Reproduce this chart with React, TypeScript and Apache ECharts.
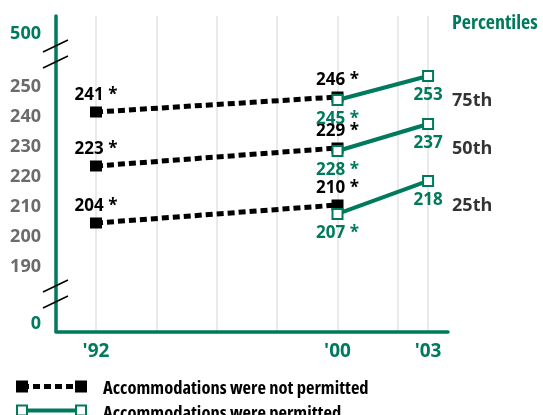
import React, { useEffect, useRef } from "react";
import * as echarts from "echarts";

// ---- data ----
const notPermYears = [1992, 2000];
const permYears = [2000, 2003];
const notPerm75 = [241, 246];
const notPerm50 = [223, 229];
const notPerm25 = [204, 210];
const perm75 = [245, 253];
const perm50 = [228, 237];
const perm25 = [207, 218];
const notPermSig = [true, true];
const permSig = [true, false];
const percentileNames = ["75th", "50th", "25th"];
const xLabelYears = [1992, 2000, 2003];
const xGridYears = [1992, 1994, 1996, 1998, 2000, 2002, 2003];
const yTickValues = [190, 200, 210, 220, 230, 240, 250];
// break labels: displayed text and position on the compressed scale
const breakLabelText = ["0", "500"];
const breakLabelPos = [171, 267.67];

const GREEN = "#007a5c";
const GREY = "#6b6b6b";
const FONT = '"Open Sans", sans-serif';
const STRETCH = "condensed";

function pairs(xs: number[], ys: number[]) {
  return xs.map((x, i) => [x, ys[i]]);
}

export default function App() {
  const ref = useRef<HTMLDivElement>(null);
  useEffect(() => {
    const chart = echarts.init(ref.current!, null, { renderer: "svg" });

    const notPermSets = [notPerm75, notPerm50, notPerm25];
    const permSets = [perm75, perm50, perm25];

    const series: any[] = [];
    notPermSets.forEach((vals, k) => {
      series.push({
        name: "Accommodations were not permitted",
        type: "line",
        data: pairs(notPermYears, vals),
        symbol: "rect",
        symbolSize: [12, 11],
        itemStyle: { color: "#000" },
        lineStyle: { color: "#000", width: 5, type: [7, 4] },
        z: 2 + k,
        label: {
          show: true,
          position: "top",
          distance: 4,
          color: "#000",
          fontFamily: FONT,
          fontStyle: STRETCH,
          fontSize: 17,
          fontWeight: "bold",
          formatter: (p: any) => p.value[1] + (notPermSig[p.dataIndex] ? " *" : ""),
        },
      });
    });
    permSets.forEach((vals, k) => {
      series.push({
        name: "Accommodations were permitted",
        type: "line",
        data: pairs(permYears, vals),
        symbol: "rect",
        symbolSize: 10,
        itemStyle: { color: "#fff", borderColor: GREEN, borderWidth: 2 },
        lineStyle: { color: GREEN, width: 4 },
        z: 10 + k,
        label: {
          show: true,
          position: "bottom",
          distance: 3,
          color: GREEN,
          fontFamily: FONT,
          fontStyle: STRETCH,
          fontSize: 17,
          fontWeight: "bold",
          formatter: (p: any) => p.value[1] + (permSig[p.dataIndex] ? " *" : ""),
        },
      });
    });
    series.push({
      type: "scatter",
      symbolSize: 0,
      silent: true,
      data: permSets.map((vals, k) => ({
        value: [permYears[permYears.length - 1], vals[vals.length - 1]],
        name: percentileNames[k],
      })),
      label: {
        show: true,
        position: "right",
        distance: 24,
        offset: [0, 23],
        color: "#000",
        fontFamily: FONT,
        fontStyle: STRETCH,
        fontSize: 18,
        fontWeight: "bold",
        formatter: (p: any) => p.name,
      },
    });

    const breakMark = (x1: number, y1: number) => ({
      type: "line",
      shape: { x1, y1, x2: x1 + 25, y2: y1 - 12 },
      style: { stroke: "#000", lineWidth: 1.5 },
      z: 100,
    });

    chart.setOption({
      animation: false,
      grid: { left: 56, right: 95, top: 16, bottom: 83.5 },
      xAxis: {
        type: "value",
        min: 1990.675,
        max: 2003.66,
        axisLine: { show: true, lineStyle: { color: GREEN, width: 3.5 } },
        axisTick: { show: false, customValues: xGridYears },
        splitLine: { show: true, lineStyle: { color: "#e3e3e3", width: 1.5 } },
        axisLabel: {
          customValues: xLabelYears,
          margin: 9,
          color: GREEN,
          fontFamily: FONT,
          fontStyle: STRETCH,
          fontSize: 19,
          fontWeight: "bold",
          formatter: (v: number) => "'" + String(v).slice(2),
        },
      },
      yAxis: {
        type: "value",
        min: 167.83,
        max: 273,
        axisLine: { show: true, lineStyle: { color: GREEN, width: 3.5 } },
        axisTick: { show: false },
        splitLine: { show: false },
        axisLabel: {
          customValues: [breakLabelPos[0], ...yTickValues, breakLabelPos[1]],
          margin: 15,
          fontFamily: FONT,
          fontStyle: STRETCH,
          fontSize: 17,
          formatter: (v: number) => {
            const bi = breakLabelPos.findIndex((b) => Math.abs(b - v) < 0.01);
            if (bi >= 0) return "{g|" + breakLabelText[bi] + "}";
            return "{n|" + v + "}";
          },
          rich: {
            g: { color: GREEN, fontFamily: FONT, fontStyle: STRETCH, fontSize: 18, fontWeight: "bold" },
            n: { color: GREY, fontFamily: FONT, fontStyle: STRETCH, fontSize: 18, fontWeight: "bold" },
          },
        },
      },
      graphic: [
        breakMark(43, 52),
        breakMark(43, 68),
        breakMark(43, 292),
        breakMark(43, 308),
        {
          type: "text",
          left: 452,
          top: 11,
          style: { text: "Percentiles", fill: GREEN, font: `${STRETCH} bold 20px ${FONT}` },
        },
        // legend row 1
        {
          type: "group",
          left: 16,
          top: 377,
          children: [
            { type: "line", shape: { x1: 6, y1: 8, x2: 66, y2: 8 }, style: { stroke: "#000", lineWidth: 5, lineDash: [7, 4] } },
            { type: "rect", shape: { x: 0, y: 2, width: 12, height: 12 }, style: { fill: "#000" } },
            { type: "rect", shape: { x: 59, y: 2, width: 12, height: 12 }, style: { fill: "#000" } },
            { type: "text", x: 87, y: 8, style: { text: "Accommodations were not permitted", fill: "#000", font: `${STRETCH} bold 18.5px ${FONT}`, verticalAlign: "middle" } },
          ],
        },
        // legend row 2
        {
          type: "group",
          left: 16,
          top: 402,
          children: [
            { type: "line", shape: { x1: 6, y1: 7, x2: 66, y2: 7 }, style: { stroke: GREEN, lineWidth: 4 } },
            { type: "rect", shape: { x: 1, y: 2, width: 10, height: 10 }, style: { fill: "#fff", stroke: GREEN, lineWidth: 2 } },
            { type: "rect", shape: { x: 60, y: 2, width: 10, height: 10 }, style: { fill: "#fff", stroke: GREEN, lineWidth: 2 } },
            { type: "text", x: 87, y: 8, style: { text: "Accommodations were permitted", fill: "#000", font: `${STRETCH} bold 18.5px ${FONT}`, verticalAlign: "middle" } },
          ],
        },
      ],
      series,
    });
    return () => chart.dispose();
  }, []);
  return <div ref={ref} style={{ position: "fixed", left: 0, top: 0, width: 543, height: 415 }} />;
}
